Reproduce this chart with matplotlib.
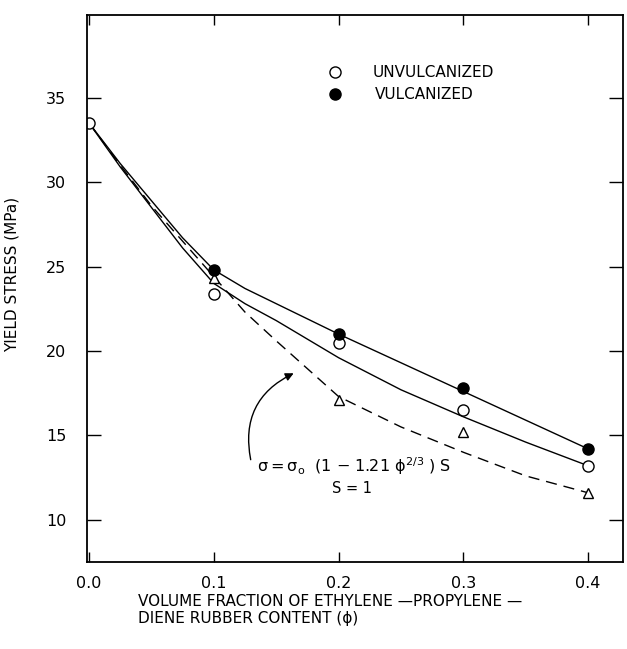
import matplotlib
matplotlib.use("Agg")
import matplotlib.pyplot as plt

plt.rcParams["font.family"] = ["DejaVu Sans"]
plt.rcParams["mathtext.default"] = "regular"

# measured points
phi_unvulc = [0.0, 0.1, 0.2, 0.3, 0.4]
stress_unvulc = [33.5, 23.4, 20.5, 16.5, 13.2]

phi_vulc = [0.1, 0.2, 0.3, 0.4]
stress_vulc = [24.8, 21.0, 17.8, 14.2]

phi_model = [0.1, 0.2, 0.3, 0.4]
stress_model = [24.3, 17.1, 15.2, 11.6]

# hand drawn curves
curve_phi = [0.0, 0.025, 0.05, 0.075, 0.1, 0.125, 0.15, 0.2, 0.25, 0.3, 0.35, 0.4]
curve_vulc = [33.5, 31.1, 28.9, 26.7, 24.8, 23.7, 22.8, 21.0, 19.3, 17.6, 15.9, 14.2]
curve_unvulc = [33.5, 30.9, 28.5, 26.1, 24.0, 22.8, 21.8, 19.6, 17.7, 16.1, 14.6, 13.2]
curve_model = [33.5, 31.0, 28.6, 26.5, 24.4, 22.3, 20.6, 17.3, 15.5, 14.0, 12.6, 11.6]

x_ticks = [0.0, 0.1, 0.2, 0.3, 0.4]
x_ticklabels = ["0.0", "0.1", "0.2", "0.3", "0.4"]
y_ticks = [10, 15, 20, 25, 30, 35]

fig = plt.figure(figsize=(6.27, 6.49), dpi=100)
ax = fig.add_axes([0.1388, 0.134, 0.855, 0.843])

ax.plot(curve_phi, curve_vulc, color="black", lw=1.0)
ax.plot(curve_phi, curve_unvulc, color="black", lw=1.0)
ax.plot(curve_phi, curve_model, color="black", lw=1.0, dashes=(8, 5))

ax.plot(phi_model, stress_model, linestyle="none", marker="^", ms=7,
        mfc="white", mec="black", mew=1.0)
ax.plot(phi_unvulc, stress_unvulc, linestyle="none", marker="o", ms=8,
        mfc="white", mec="black", mew=1.0)
ax.plot(phi_vulc, stress_vulc, linestyle="none", marker="o", ms=8,
        mfc="black", mec="black")

# legend drawn by hand, as in the figure
ax.plot([0.197], [36.5], linestyle="none", marker="o", ms=8, mfc="white", mec="black", mew=1.0)
ax.plot([0.197], [35.2], linestyle="none", marker="o", ms=8, mfc="black", mec="black")
ax.text(0.227, 36.5, "UNVULCANIZED", fontsize=11, va="center", ha="left")
ax.text(0.229, 35.2, "VULCANIZED", fontsize=11, va="center", ha="left")

# model equation and arrow
ax.text(0.135, 13.2, r"$\sigma = \sigma_o$  (1 $-$ 1.21 $\phi^{2/3}$ ) S",
        fontsize=11.5, va="center", ha="left")
ax.text(0.195, 11.85, "S = 1", fontsize=10.5, va="center", ha="left")
ax.annotate("", xy=(0.166, 18.75), xytext=(0.130, 13.4),
            arrowprops=dict(arrowstyle="-|>", color="black", lw=1.0,
                            connectionstyle="arc3,rad=-0.4", mutation_scale=12))

ax.set_xlim(-0.0016, 0.428)
ax.set_ylim(7.5, 39.9)
ax.set_xticks(x_ticks)
ax.set_xticklabels(x_ticklabels)
ax.set_yticks(y_ticks)
ax.tick_params(axis="both", direction="in", labelsize=11.5, width=1.0)
ax.tick_params(axis="y", length=10, pad=15, right=True)
ax.tick_params(axis="x", length=7, pad=10, top=True)
for s in ax.spines.values():
    s.set_linewidth(1.3)

ax.set_ylabel("YIELD STRESS (MPa)", fontsize=11)
ax.yaxis.set_label_coords(-0.125, 0.525)
fig.text(0.22, 0.06, "VOLUME FRACTION OF ETHYLENE \u2014PROPYLENE \u2014\nDIENE RUBBER CONTENT (\u03d5)",
         fontsize=11, ha="left", va="center", linespacing=1.15)

fig.savefig("out.png", dpi=100)
